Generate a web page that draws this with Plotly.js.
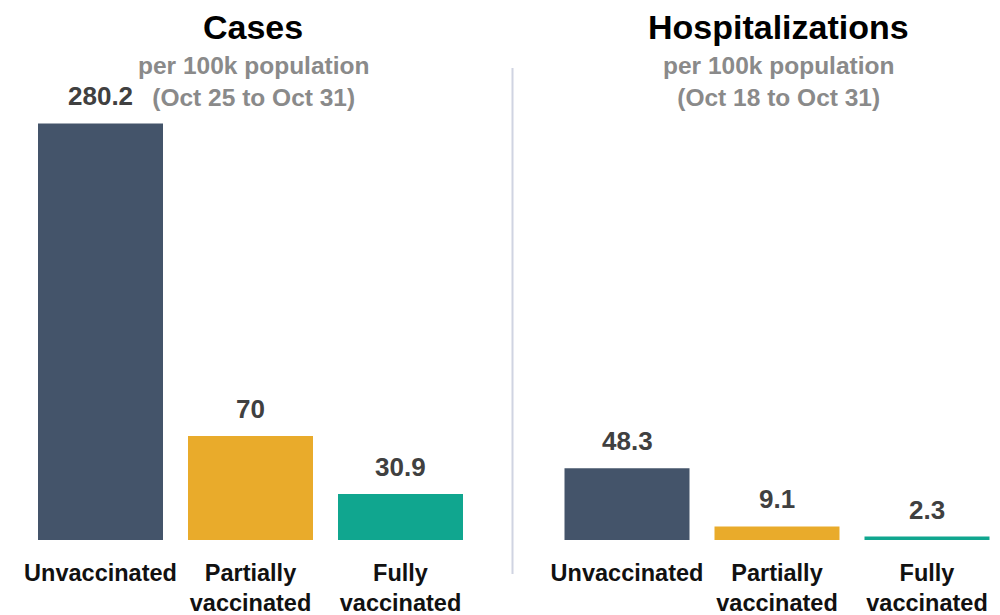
<!DOCTYPE html>
<html>
<head>
<meta charset="utf-8">
<script src="https://cdn.plot.ly/plotly-3.0.1.min.js"></script>
<style>html,body{margin:0;padding:0;background:#fff;}#chart{width:1000px;height:615px;}</style>
</head>
<body>
<div id="chart"></div>
<script>
const categories = ['Unvaccinated', 'Partially<br>vaccinated', 'Fully<br>vaccinated'];
const casesValues = [280.2, 70, 30.9];
const hospValues = [48.3, 9.1, 2.3];
const barColors = ['#44546a', '#e9ab2b', '#10a68f'];
const panelTitles = ['Cases', 'Hospitalizations'];
const panelSubtitles = ['per 100k population<br>(Oct 25 to Oct 31)', 'per 100k population<br>(Oct 18 to Oct 31)'];

const FONT = '"Liberation Sans", Arial, sans-serif';

const traces = [
  {type: 'bar', x: categories, y: casesValues, xaxis: 'x', yaxis: 'y',
   marker: {color: barColors}, hoverinfo: 'none'},
  {type: 'bar', x: categories, y: hospValues, xaxis: 'x2', yaxis: 'y2',
   marker: {color: barColors}, hoverinfo: 'none'}
];

const annotations = [];
[[casesValues, 'x', 'y'], [hospValues, 'x2', 'y2']].forEach(([vals, xr, yr]) => {
  vals.forEach((v, i) => {
    annotations.push({x: categories[i], y: v, xref: xr, yref: yr, text: '<b>' + String(v) + '</b>',
      showarrow: false, xanchor: 'center', yanchor: 'bottom', yshift: 10,
      font: {family: FONT, size: 26, color: '#404040'}});
  });
});
const titleX = [0.253, 0.778];
panelTitles.forEach((t, i) => {
  annotations.push({xref: 'paper', yref: 'paper', x: titleX[i], y: 1 + (100 - 27) / 440,
    xanchor: 'center', yanchor: 'middle',
    text: '<b>' + t + '</b>', showarrow: false, font: {family: FONT, size: 34, color: '#000'}});
  annotations.push({xref: 'paper', yref: 'paper', x: titleX[i], y: 1 + (100 - 82) / 440,
    xanchor: 'center', yanchor: 'middle',
    text: '<b>' + panelSubtitles[i].replace('<br>', '</b><br><b>') + '</b>', showarrow: false,
    font: {family: FONT, size: 24.5, color: '#8a8a8a'}});
});

const tickFont = {family: FONT, size: 23.5, color: '#111'};
const tickText = categories.map(c => '<b>' + c.replace('<br>', '</b><br><b>') + '</b>');
const layout = {
  width: 1000, height: 615,
  margin: {l: 0, r: 0, t: 100, b: 75, pad: 0},
  paper_bgcolor: '#fff', plot_bgcolor: '#fff',
  showlegend: false,
  bargap: 0.1667,
  font: {family: FONT},
  xaxis: {domain: [0.0255, 0.4755], range: [-0.5, 2.5], showgrid: false, zeroline: false, showline: false,
    ticks: '', tickfont: tickFont, ticklabelstandoff: 16, fixedrange: true,
    tickvals: categories, ticktext: tickText},
  xaxis2: {domain: [0.552, 1], range: [-0.5, 2.4867], showgrid: false, zeroline: false, showline: false,
    ticks: '', tickfont: tickFont, ticklabelstandoff: 16, fixedrange: true,
    tickvals: categories, ticktext: tickText},
  yaxis: {range: [0, 296], visible: false, fixedrange: true},
  yaxis2: {range: [0, 296], visible: false, fixedrange: true, anchor: 'x2'},
  annotations: annotations,
  shapes: [{type: 'line', xref: 'paper', yref: 'paper', x0: 0.5125, x1: 0.5125,
    y0: 1 - (574 - 100) / 440, y1: 1 - (68 - 100) / 440, line: {color: '#d0d4e2', width: 2}}]
};

Plotly.newPlot('chart', traces, layout, {displayModeBar: false, staticPlot: true});
</script>
</body>
</html>
